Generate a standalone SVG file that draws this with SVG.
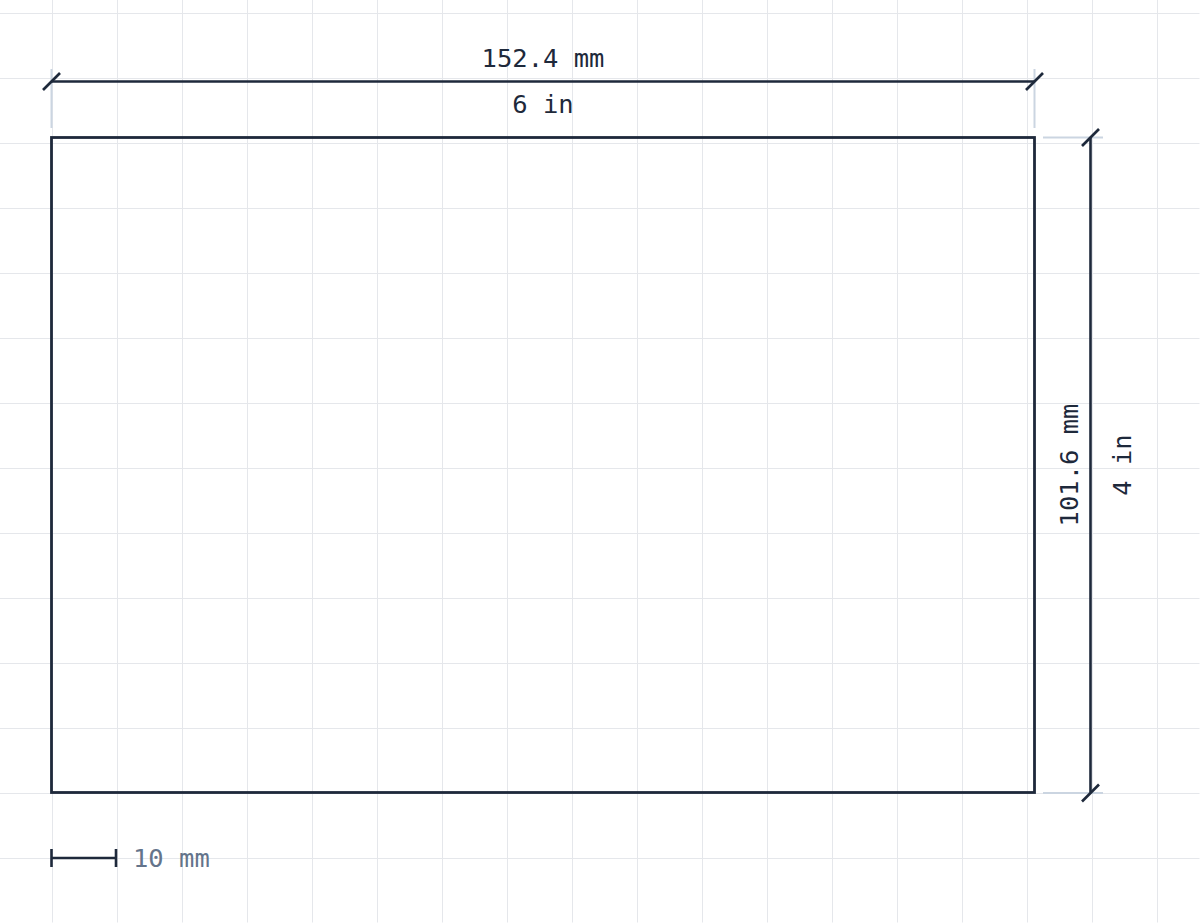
<svg xmlns="http://www.w3.org/2000/svg" width="1200" height="923" viewBox="0 0 1200 923">
<style>
.grid{stroke:#e5e7eb;stroke-width:1}
.shape{fill:none;stroke:#1e293b;stroke-width:2.8}
.dim{stroke:#1e293b;stroke-width:2.6;fill:none}
.ext{stroke:#cbd5e1;stroke-width:2}
.lbl{font-family:"DejaVu Sans Mono","Liberation Mono",monospace;font-size:25.5px;fill:#1e293b}
.scale{font-family:"DejaVu Sans Mono","Liberation Mono",monospace;font-size:25.5px;fill:#64748b}
</style>
<defs>
<pattern id="g" x="52.5" y="13.5" width="65" height="65" patternUnits="userSpaceOnUse">
<path d="M0.5 0V65M0 0.5H65" class="grid"/>
</pattern>
</defs>
<rect width="1200" height="923" fill="#ffffff"/>
<rect x="0" y="0" width="1200" height="923" fill="url(#g)" transform="translate(-0.5,-0.5)"/>
<g id="sheet">
<rect x="51.5" y="137.5" width="983" height="655" class="shape"/>
</g>
<g id="connectors">
<line x1="51.5" y1="69" x2="51.5" y2="128" class="ext"/>
<line x1="1034.5" y1="69" x2="1034.5" y2="128" class="ext"/>
<line x1="1043" y1="137.5" x2="1103" y2="137.5" class="ext"/>
<line x1="1043" y1="793" x2="1103" y2="793" class="ext"/>
<line x1="51.5" y1="81.5" x2="1034.5" y2="81.5" class="dim"/>
<line x1="43" y1="90" x2="60" y2="73" class="dim"/>
<line x1="1026" y1="90" x2="1043" y2="73" class="dim"/>
<line x1="1090.5" y1="137.5" x2="1090.5" y2="792.5" class="dim"/>
<line x1="1082" y1="146" x2="1099" y2="129" class="dim"/>
<line x1="1082" y1="801.5" x2="1099" y2="784.5" class="dim"/>
<line x1="51.5" y1="858" x2="116" y2="858" class="dim" stroke-width="3"/>
<line x1="51.5" y1="849" x2="51.5" y2="867" class="dim"/>
<line x1="116" y1="849" x2="116" y2="867" class="dim"/>
</g>
<g id="labels">
<text x="543" y="67" text-anchor="middle" class="lbl">152.4 mm</text>
<text x="543" y="113" text-anchor="middle" class="lbl">6 in</text>
<text transform="translate(1078,465) rotate(-90)" text-anchor="middle" class="lbl">101.6 mm</text>
<text transform="translate(1131,465) rotate(-90)" text-anchor="middle" class="lbl">4 in</text>
<text x="133" y="867" class="scale">10 mm</text>
</g>
</svg>
